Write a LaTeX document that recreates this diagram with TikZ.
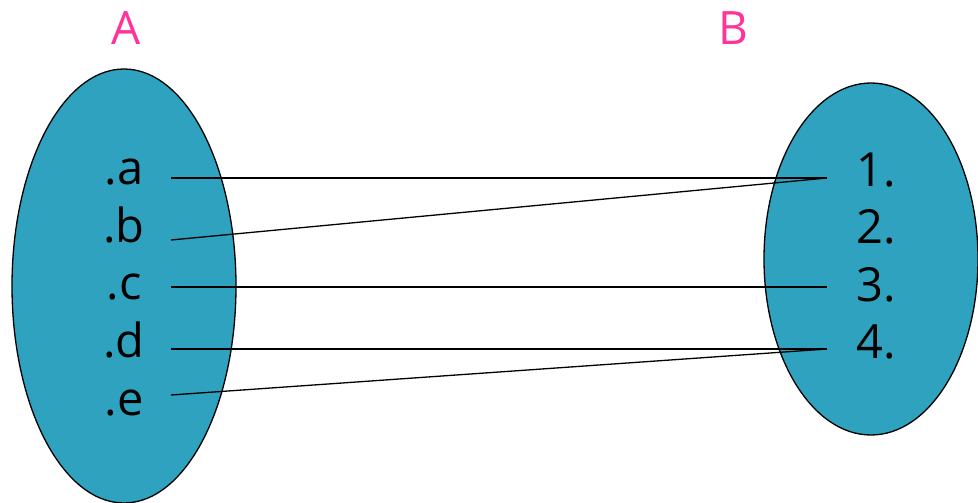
\documentclass[tikz,border=0pt]{standalone}
\usepackage{fontspec}
\setmainfont{Open Sans}
\usepackage{xcolor}
\usepackage{tikz}
\usetikzlibrary{calc, positioning}

\definecolor{setblue}{RGB}{46,162,190}
\definecolor{setpink}{RGB}{255,51,153}

\begin{document}
\begin{tikzpicture}[x=1pt, y=-1pt]
    \useasboundingbox (0,0) rectangle (978,503);
    \tikzset{
      setname/.style={text=setpink, font=\fontsize{46}{48}\selectfont},
      elem/.style={anchor=base, font=\fontsize{47}{49}\selectfont, inner sep=0pt},
      arrowline/.style={black, line width=1.3pt}
    }

    % 1. Hai tập hợp A, B (hình elip)
    \draw[fill=setblue, line width=1.3pt] (124,286) ellipse (112 and 217);
    \draw[fill=setblue, line width=1.3pt] (871,259) ellipse (107 and 176);
    \node[setname] (nameA) at (126,28) {A};
    \node[setname] (nameB) at (733,28) {B};

    % 2. Các phần tử của A
    \node[elem] (la) at (124,184) {.a};
    \node[elem] (lb) at (124,242) {.b};
    \node[elem] (lc) at (124,299) {.c};
    \node[elem] (ld) at (124,357) {.d};
    \node[elem] (le) at (124,415) {.e};

    % 3. Các phần tử của B
    \node[elem] (l1) at (876,186) {1.};
    \node[elem] (l2) at (876,243) {2.};
    \node[elem] (l3) at (876,301) {3.};
    \node[elem] (l4) at (876,358) {4.};

    % 4. Điểm đầu, điểm cuối của các đoạn nối
    \coordinate (pa) at (171,178);
    \coordinate (pb) at (171,240);
    \coordinate (pc) at (171,287);
    \coordinate (pd) at (171,349);
    \coordinate (pe) at (171,395);
    \coordinate (p1) at (827,178);
    \coordinate (p3) at (827,287);
    \coordinate (p4) at (827,349);

    % 5. Các đoạn nối
    \draw[arrowline] (pa) -- (p1);
    \draw[arrowline] (pb) -- (p1);
    \draw[arrowline] (pc) -- (p3);
    \draw[arrowline] (pd) -- (p4);
    \draw[arrowline] (pe) -- (p4);

\end{tikzpicture}
\end{document}
